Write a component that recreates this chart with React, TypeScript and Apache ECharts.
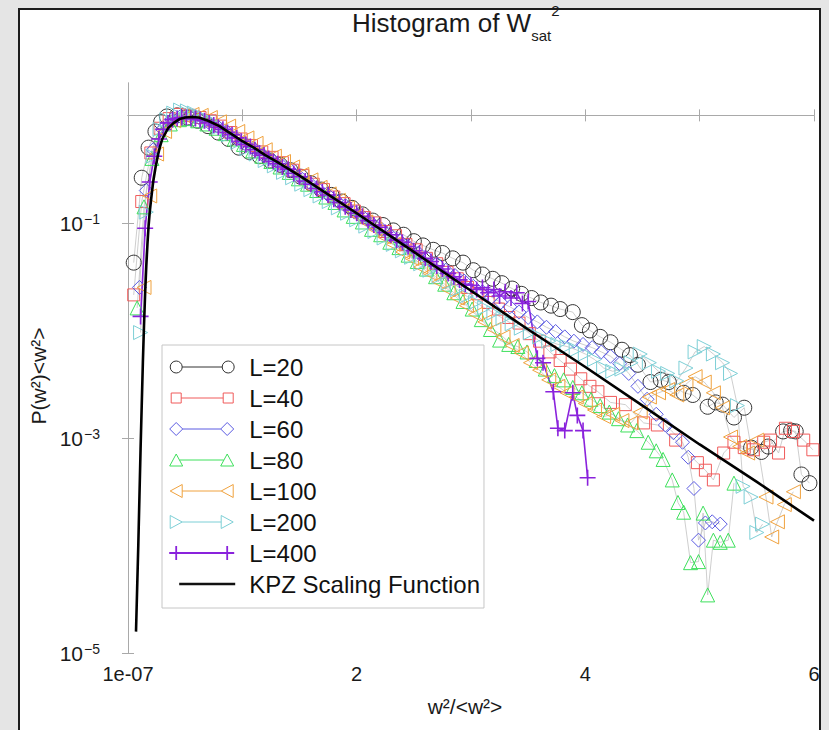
import React, { useEffect, useRef } from 'react';
import * as echarts from 'echarts';

const FONT = "'Liberation Sans', Arial, Helvetica, sans-serif";

const seriesNames = ['L=20', 'L=40', 'L=60', 'L=80', 'L=100', 'L=200', 'L=400', 'KPZ Scaling Function'];
const xTickLabelValues = [0, 2, 4, 6];
const xTickLabels = ['1e-07', '2', '4', '6'];
const yTickExponents = [-5, -3, -1];

const x20 = [0.05,0.12,0.18,0.24,0.29,0.34,0.43,0.52,0.61,0.70,0.79,0.88,0.97,1.06,1.15,1.24,1.33,1.42,1.51,1.60,1.69,1.78,1.87,1.96,2.05,2.14,2.23,2.32,2.41,2.50,2.58,2.67,2.75,2.84,2.93,3.02,3.10,3.19,3.27,3.36,3.44,3.53,3.61,3.70,3.78,3.89,3.97,4.04,4.13,4.22,4.32,4.39,4.46,4.57,4.66,4.73,4.86,4.94,5.07,5.14,5.20,5.30,5.39,5.45,5.54,5.60,5.73,5.80,5.84,5.89,5.96];
const p20 = [4.27e-2,0.263,0.501,0.708,0.871,0.977,1.0,0.955,0.891,0.794,0.692,0.603,0.501,0.457,0.417,0.380,0.347,0.309,0.269,0.234,0.204,0.182,0.158,0.138,0.120,0.105,9.55e-2,8.51e-2,7.76e-2,6.76e-2,6.17e-2,5.62e-2,5.25e-2,4.68e-2,4.27e-2,3.63e-2,3.31e-2,3.02e-2,2.75e-2,2.45e-2,2.19e-2,2.00e-2,1.82e-2,1.70e-2,1.58e-2,1.48e-2,1.12e-2,1.00e-2,8.71e-3,7.76e-3,6.61e-3,5.89e-3,4.79e-3,3.31e-3,3.47e-3,3.31e-3,2.63e-3,2.51e-3,1.95e-3,2.14e-3,2.04e-3,1.55e-3,1.91e-3,8.13e-4,7.41e-4,8.32e-4,1.15e-3,1.17e-3,1.15e-3,4.57e-4,3.80e-4];

const x40 = [0.05,0.12,0.20,0.28,0.36,0.45,0.54,0.63,0.72,0.81,0.90,0.99,1.08,1.17,1.26,1.35,1.44,1.53,1.62,1.71,1.80,1.89,1.98,2.07,2.16,2.25,2.34,2.43,2.52,2.61,2.70,2.79,2.88,2.97,3.06,3.15,3.24,3.33,3.42,3.51,3.60,3.69,3.78,3.87,3.96,4.04,4.11,4.22,4.35,4.51,4.63,4.79,4.98,5.05,5.12,5.21,5.30,5.39,5.47,5.56,5.62,5.69,5.75,5.82,5.91,5.99];
const p40 = [2.14e-2,0.158,0.447,0.759,0.933,1.02,1.00,0.955,0.891,0.794,0.692,0.603,0.525,0.457,0.407,0.363,0.309,0.275,0.229,0.204,0.174,0.151,0.129,0.112,0.100,8.32e-2,7.59e-2,6.31e-2,5.62e-2,4.68e-2,4.17e-2,3.47e-2,3.02e-2,2.51e-2,2.19e-2,1.82e-2,1.58e-2,1.32e-2,1.17e-2,9.33e-3,7.94e-3,6.31e-3,5.25e-3,4.37e-3,3.55e-3,3.02e-3,2.69e-3,2.14e-3,2.04e-3,1.38e-3,1.32e-3,9.55e-4,5.89e-4,5.01e-4,4.07e-4,7.24e-4,9.12e-4,8.13e-4,7.76e-4,9.12e-4,9.55e-4,7.24e-4,1.23e-3,1.15e-3,9.55e-4,7.76e-4];

const x60 = [0.10,0.16,0.22,0.30,0.38,0.46,0.54,0.62,0.70,0.78,0.86,0.94,1.02,1.10,1.18,1.26,1.34,1.42,1.50,1.58,1.66,1.74,1.82,1.90,1.98,2.06,2.14,2.22,2.30,2.38,2.46,2.54,2.62,2.70,2.78,2.86,2.94,3.02,3.10,3.18,3.26,3.34,3.42,3.50,3.58,3.66,3.74,3.82,3.90,3.98,4.06,4.14,4.22,4.30,4.38,4.46,4.54,4.62,4.70,4.77,4.85,4.90,4.95,4.99,5.05,5.11,5.18];
const p60 = [2.51e-2,0.200,0.479,0.741,0.912,0.977,1.00,0.955,0.871,0.794,0.708,0.617,0.550,0.490,0.427,0.389,0.347,0.309,0.269,0.240,0.209,0.186,0.162,0.145,0.126,0.112,9.77e-2,8.71e-2,7.59e-2,6.76e-2,5.89e-2,5.25e-2,4.68e-2,4.17e-2,3.63e-2,3.24e-2,2.88e-2,2.57e-2,2.29e-2,2.04e-2,1.82e-2,1.66e-2,1.48e-2,1.32e-2,1.20e-2,1.07e-2,9.77e-3,8.71e-3,7.94e-3,7.41e-3,6.92e-3,6.31e-3,5.75e-3,4.90e-3,3.98e-3,3.02e-3,2.29e-3,1.66e-3,1.32e-3,1.12e-3,9.12e-4,6.61e-4,3.39e-4,1.12e-4,1.62e-4,1.66e-4,1.58e-4];

const x80 = [0.08,0.14,0.21,0.29,0.37,0.45,0.53,0.61,0.69,0.77,0.85,0.93,1.01,1.09,1.17,1.25,1.33,1.41,1.49,1.57,1.65,1.73,1.81,1.89,1.97,2.05,2.13,2.21,2.29,2.37,2.45,2.53,2.61,2.69,2.77,2.85,2.93,3.01,3.09,3.17,3.25,3.33,3.41,3.49,3.57,3.65,3.73,3.81,3.89,3.97,4.05,4.13,4.21,4.29,4.37,4.45,4.55,4.62,4.68,4.76,4.81,4.86,4.92,4.99,5.03,5.07,5.12,5.18,5.25,5.30];
const p80 = [1.62e-2,0.141,0.398,0.661,0.832,0.912,0.933,0.891,0.832,0.759,0.676,0.603,0.537,0.468,0.417,0.372,0.331,0.295,0.257,0.229,0.200,0.174,0.155,0.132,0.115,0.102,8.71e-2,7.76e-2,6.61e-2,5.89e-2,5.01e-2,4.37e-2,3.72e-2,3.16e-2,2.69e-2,2.24e-2,1.86e-2,1.58e-2,1.26e-2,1.02e-2,8.13e-3,7.41e-3,7.08e-3,6.31e-3,5.25e-3,4.37e-3,3.80e-3,3.47e-3,2.95e-3,2.63e-3,2.29e-3,2.00e-3,1.74e-3,1.51e-3,1.32e-3,1.17e-3,9.12e-4,7.59e-4,6.31e-4,4.07e-4,2.51e-4,2.04e-4,6.92e-5,7.08e-5,2.00e-4,3.47e-5,1.12e-4,1.07e-4,1.12e-4,3.80e-4];

const x100 = [0.14,0.19,0.25,0.32,0.40,0.48,0.56,0.64,0.72,0.80,0.88,0.96,1.04,1.12,1.20,1.28,1.36,1.44,1.52,1.60,1.68,1.76,1.84,1.92,2.00,2.08,2.16,2.24,2.32,2.40,2.48,2.56,2.64,2.72,2.80,2.88,2.96,3.04,3.12,3.20,3.28,3.36,3.44,3.52,3.60,3.68,3.76,3.84,3.92,4.00,4.08,4.16,4.24,4.32,4.40,4.48,4.56,4.64,4.72,4.80,4.88,4.96,5.04,5.12,5.20,5.27,5.35,5.42,5.50,5.58,5.63,5.68,5.74,5.82];
const p100 = [2.51e-2,0.178,0.437,0.708,0.891,1.00,1.02,1.00,0.955,0.871,0.794,0.708,0.617,0.550,0.479,0.417,0.372,0.331,0.282,0.251,0.214,0.186,0.162,0.138,0.117,0.102,8.71e-2,7.41e-2,6.31e-2,5.37e-2,4.68e-2,3.89e-2,3.39e-2,2.82e-2,2.40e-2,2.00e-2,1.70e-2,1.41e-2,1.20e-2,1.02e-2,8.71e-3,7.24e-3,6.17e-3,5.01e-3,4.27e-3,3.47e-3,3.02e-3,2.63e-3,2.40e-3,2.09e-3,1.82e-3,1.58e-3,1.66e-3,1.45e-3,1.38e-3,1.74e-3,2.40e-3,2.63e-3,2.82e-3,2.51e-3,3.16e-3,3.72e-3,3.31e-3,2.63e-3,1.91e-3,1.02e-3,8.32e-4,7.24e-4,9.55e-4,2.82e-4,1.20e-4,1.66e-4,2.40e-4,3.16e-4];

const x200 = [0.11,0.16,0.22,0.28,0.34,0.40,0.46,0.52,0.58,0.64,0.72,0.80,0.88,0.96,1.04,1.12,1.20,1.28,1.36,1.44,1.52,1.60,1.68,1.76,1.84,1.92,2.00,2.08,2.16,2.24,2.32,2.40,2.48,2.56,2.64,2.72,2.80,2.88,2.96,3.04,3.12,3.20,3.28,3.36,3.44,3.52,3.60,3.68,3.76,3.84,3.92,4.00,4.08,4.16,4.24,4.32,4.40,4.48,4.56,4.64,4.72,4.80,4.88,4.96,5.04,5.12,5.20,5.27,5.33,5.38,5.45,5.50,5.55];
const p200 = [9.55e-3,0.126,0.417,0.741,0.912,1.05,1.12,1.10,1.05,0.977,0.891,0.776,0.661,0.562,0.490,0.437,0.380,0.339,0.295,0.263,0.229,0.204,0.178,0.158,0.138,0.123,0.107,9.33e-2,8.32e-2,7.24e-2,6.31e-2,5.50e-2,4.79e-2,4.17e-2,3.63e-2,3.16e-2,2.75e-2,2.40e-2,2.09e-2,1.82e-2,1.62e-2,1.45e-2,1.29e-2,1.15e-2,1.05e-2,9.55e-3,8.71e-3,7.94e-3,7.41e-3,7.08e-3,6.61e-3,6.03e-3,5.37e-3,4.47e-3,4.17e-3,4.37e-3,5.01e-3,6.03e-3,5.01e-3,4.17e-3,3.98e-3,3.39e-3,4.47e-3,6.31e-3,7.08e-3,6.03e-3,5.01e-3,3.98e-3,2.00e-3,3.55e-4,2.82e-4,1.32e-4,1.58e-4];

const x400 = [0.11,0.15,0.19,0.23,0.27,0.31,0.35,0.39,0.43,0.47,0.51,0.55,0.59,0.63,0.67,0.71,0.75,0.79,0.83,0.87,0.91,0.95,0.99,1.03,1.07,1.11,1.15,1.19,1.23,1.27,1.31,1.35,1.40,1.45,1.50,1.55,1.60,1.65,1.70,1.75,1.80,1.85,1.90,1.95,2.00,2.05,2.10,2.15,2.20,2.25,2.30,2.35,2.40,2.45,2.50,2.55,2.60,2.65,2.70,2.75,2.80,2.85,2.90,2.95,3.00,3.05,3.10,3.15,3.20,3.25,3.30,3.35,3.40,3.45,3.50,3.58,3.63,3.72,3.76,3.82,3.89,3.93,3.98,4.02];
const p400 = [1.35e-2,8.91e-2,0.240,0.417,0.603,0.741,0.851,0.912,0.933,0.955,0.955,0.933,0.933,0.912,0.891,0.851,0.813,0.776,0.741,0.692,0.661,0.617,0.575,0.537,0.513,0.479,0.447,0.427,0.398,0.372,0.355,0.331,0.316,0.288,0.269,0.245,0.229,0.209,0.195,0.182,0.166,0.155,0.141,0.132,0.123,0.115,0.105,9.55e-2,9.12e-2,8.13e-2,7.76e-2,6.92e-2,6.61e-2,6.03e-2,5.50e-2,5.25e-2,4.68e-2,4.37e-2,3.98e-2,3.72e-2,3.39e-2,3.16e-2,2.95e-2,2.69e-2,2.63e-2,2.40e-2,2.51e-2,2.24e-2,2.40e-2,2.09e-2,2.29e-2,2.00e-2,2.24e-2,1.78e-2,1.86e-2,5.50e-3,5.01e-3,2.69e-3,1.23e-3,1.17e-3,2.63e-3,1.62e-3,1.17e-3,4.27e-4];

const xKpz = [0.07,0.08,0.09,0.10,0.11,0.12,0.13,0.14,0.15,0.16,0.17,0.18,0.19,0.20,0.22,0.24,0.26,0.28,0.30,0.35,0.40,0.45,0.50,0.56,0.62,0.70,0.80,0.90,1.0,1.1,1.2,1.3,1.5,2.0,2.5,3.0,3.5,4.0,4.5,5.0,5.5,6.0];
const pKpz = [1.58e-5,3.98e-5,1.0e-4,2.82e-4,7.9e-4,2.0e-3,5.0e-3,1.12e-2,2.24e-2,3.98e-2,6.3e-2,9.33e-2,0.126,0.158,0.240,0.324,0.417,0.513,0.603,0.759,0.851,0.923,0.955,0.966,0.955,0.891,0.794,0.676,0.575,0.501,0.427,0.372,0.275,0.123,5.37e-2,2.34e-2,1.02e-2,4.57e-3,2.0e-3,8.7e-4,3.9e-4,1.70e-4];

const xs = [x20, x40, x60, x80, x100, x200, x400, xKpz];
const ps = [p20, p40, p60, p80, p100, p200, p400, pKpz];

const colors = ['#333333', '#f05a5a', '#5a5ae2', '#3ee05c', '#f0a23e', '#7dcfd6', '#8a22dc', '#111111'];
const plusPath = 'path://M5,0 L5,10 M0,5 L10,5';
const symbols = ['circle', 'rect', 'diamond', 'triangle', 'triangle', 'triangle', plusPath, 'none'];
const symbolRotations = [0, 0, 0, 0, 90, -90, 0, 0];
const symbolSizes = [15, 12, 14, 14, 14, 14, 16, 0];

const legendIcons = [
  'path://M1,7 A6,6 0 1 1 13,7 A6,6 0 1 1 1,7 Z M13,7 L53,7 M53,7 A6,6 0 1 1 65,7 A6,6 0 1 1 53,7 Z M0,0 M70,14',
  'path://M2,2 L12,2 L12,12 L2,12 Z M12,7 L54,7 M54,2 L64,2 L64,12 L54,12 Z M0,0 M70,14',
  'path://M7,0.5 L13.5,7 L7,13.5 L0.5,7 Z M13.5,7 L51.5,7 M58,0.5 L64.5,7 L58,13.5 L51.5,7 Z M0,0 M70,14',
  'path://M7,1 L13.5,13 L0.5,13 Z M10.5,7 L54.5,7 M58,1 L64.5,13 L51.5,13 Z M0,0 M70,14',
  'path://M1,7 L13,0.5 L13,13.5 Z M13,7 L52,7 M52,7 L64,0.5 L64,13.5 Z M0,0 M70,14',
  'path://M1,0.5 L13,7 L1,13.5 Z M13,7 L52,7 M52,0.5 L64,7 L52,13.5 Z M0,0 M70,14',
  'path://M7,0 L7,14 M0,7 L65,7 M58,0 L58,14 M0,0 M70,14',
  'path://M10,7 L66,7 M0,0 M70,14',
];

const AXIS_GRAY = '#a9a9a9';
const TEXT = '#1a1a1a';

function buildOption(): any {
  const series = seriesNames.map((name, i) => {
    const isKpz = i === 7;
    const isPurple = i === 6;
    return {
      name,
      type: 'line',
      data: xs[i].map((x, j) => [x, Math.log10(ps[i][j])]),
      symbol: symbols[i],
      symbolSize: symbolSizes[i],
      symbolRotate: symbolRotations[i],
      showSymbol: !isKpz,
      itemStyle: { color: 'transparent', borderColor: colors[i], borderWidth: isPurple ? 1.6 : 1 },
      lineStyle: isKpz
        ? { color: '#000', width: 2.6 }
        : isPurple
        ? { color: colors[i], width: 1.6 }
        : { color: '#c2c2c2', width: 0.8 },
      z: isKpz ? 5 : 2,
      silent: true,
      emphasis: { disabled: true },
      animation: false,
    };
  });

  const axisCommon = {
    axisLine: { show: true, lineStyle: { color: AXIS_GRAY, width: 1 } },
    splitLine: { show: false },
  };

  return {
    animation: false,
    backgroundColor: 'transparent',
    title: {
      text: '{m|Histogram of W}{sub|sat}{sup|2}',
      left: 352,
      top: 3,
      padding: 0,
      textStyle: {
        fontWeight: 'normal',
        rich: {
          m: { fontSize: 26, lineHeight: 40, fontFamily: FONT, fontWeight: 'normal', color: TEXT },
          sub: { fontSize: 15, lineHeight: 15, verticalAlign: 'bottom', fontFamily: FONT, fontWeight: 'normal', color: TEXT },
          sup: { fontSize: 15, lineHeight: 15, verticalAlign: 'top', fontFamily: FONT, fontWeight: 'normal', color: TEXT },
        },
      },
    },
    grid: { left: 128, right: 15, top: 83, bottom: 77, show: false },
    legend: {
      orient: 'vertical',
      left: 162,
      top: 345,
      padding: [10, 4, 12, 6],
      itemWidth: 70,
      itemHeight: 14,
      itemGap: 7,
      backgroundColor: '#ffffff',
      borderColor: '#c6c6c6',
      borderWidth: 1,
      selectedMode: false,
      textStyle: { fontFamily: FONT, fontSize: 24, lineHeight: 24, color: '#111', padding: [0, 0, 0, 5] },
      data: seriesNames.map((name, i) => ({
        name,
        icon: legendIcons[i],
        itemStyle: {
          color: 'transparent',
          borderColor: colors[i],
          borderWidth: i === 7 ? 2.4 : i === 6 ? 1.8 : 1,
        },
      })),
    },
    xAxis: [
      {
        type: 'value',
        min: 0,
        max: 6,
        interval: 1,
        position: 'bottom',
        ...axisCommon,
        axisTick: { show: true, inside: true, length: 6, lineStyle: { color: AXIS_GRAY } },
        axisLabel: {
          customValues: xTickLabelValues,
          formatter: (v: number) => {
            const k = xTickLabelValues.indexOf(v);
            return k >= 0 ? xTickLabels[k] : '';
          },
          fontSize: 20,
          fontFamily: FONT,
          color: TEXT,
          margin: 11,
        },
        name: 'w²/<w²>',
        nameLocation: 'middle',
        nameGap: 43,
        nameTextStyle: { fontSize: 21, fontFamily: FONT, color: TEXT, padding: [0, 12, 0, 0] },
      },
      {
        type: 'value',
        min: 0,
        max: 6,
        interval: 1,
        position: 'top',
        ...axisCommon,
        axisTick: { show: true, inside: true, length: 6, lineStyle: { color: AXIS_GRAY } },
        axisLabel: { show: false },
      },
    ],
    yAxis: [
      {
        type: 'value',
        min: -5,
        max: Math.log10(2),
        position: 'left',
        ...axisCommon,
        axisTick: { show: true, inside: true, length: 6, customValues: yTickExponents, lineStyle: { color: AXIS_GRAY } },
        axisLabel: {
          customValues: yTickExponents,
          formatter: (v: number) => `{b|10}{s|${v < 0 ? '−' : ''}${Math.abs(v)}}`,
          margin: 28,
          rich: {
            b: { fontSize: 21, lineHeight: 22, padding: [10, 1, 0, 0], verticalAlign: 'bottom', fontFamily: FONT, color: TEXT },
            s: { fontSize: 14, lineHeight: 14, verticalAlign: 'top', fontFamily: FONT, color: TEXT },
          },
        },
        name: 'P(w²)<w²>',
        nameLocation: 'middle',
        nameRotate: 90,
        nameGap: 68,
        nameTextStyle: { fontSize: 21, fontFamily: FONT, color: TEXT, padding: [0, 16, 0, 0] },
      },
      {
        type: 'value',
        min: -5,
        max: Math.log10(2),
        position: 'right',
        ...axisCommon,
        axisTick: { show: true, inside: true, length: 6, customValues: yTickExponents, lineStyle: { color: AXIS_GRAY } },
        axisLabel: { show: false },
      },
    ],
    series,
  };
}

export default function App() {
  const ref = useRef<HTMLDivElement>(null);
  useEffect(() => {
    if (!ref.current) return;
    const chart = echarts.init(ref.current, undefined, { renderer: 'svg' });
    chart.setOption(buildOption());
    return () => chart.dispose();
  }, []);
  return (
    <div style={{ position: 'fixed', left: 0, top: 0, width: 829, height: 730, background: '#e5e5e5', overflow: 'hidden' }}>
      <div
        style={{
          position: 'absolute',
          left: 18,
          top: 8,
          width: 803,
          height: 740,
          background: '#ffffff',
          border: '2px solid #1c1c1c',
          boxSizing: 'border-box',
        }}
      />
      <div ref={ref} style={{ position: 'absolute', left: 0, top: 0, width: 829, height: 730 }} />
    </div>
  );
}
